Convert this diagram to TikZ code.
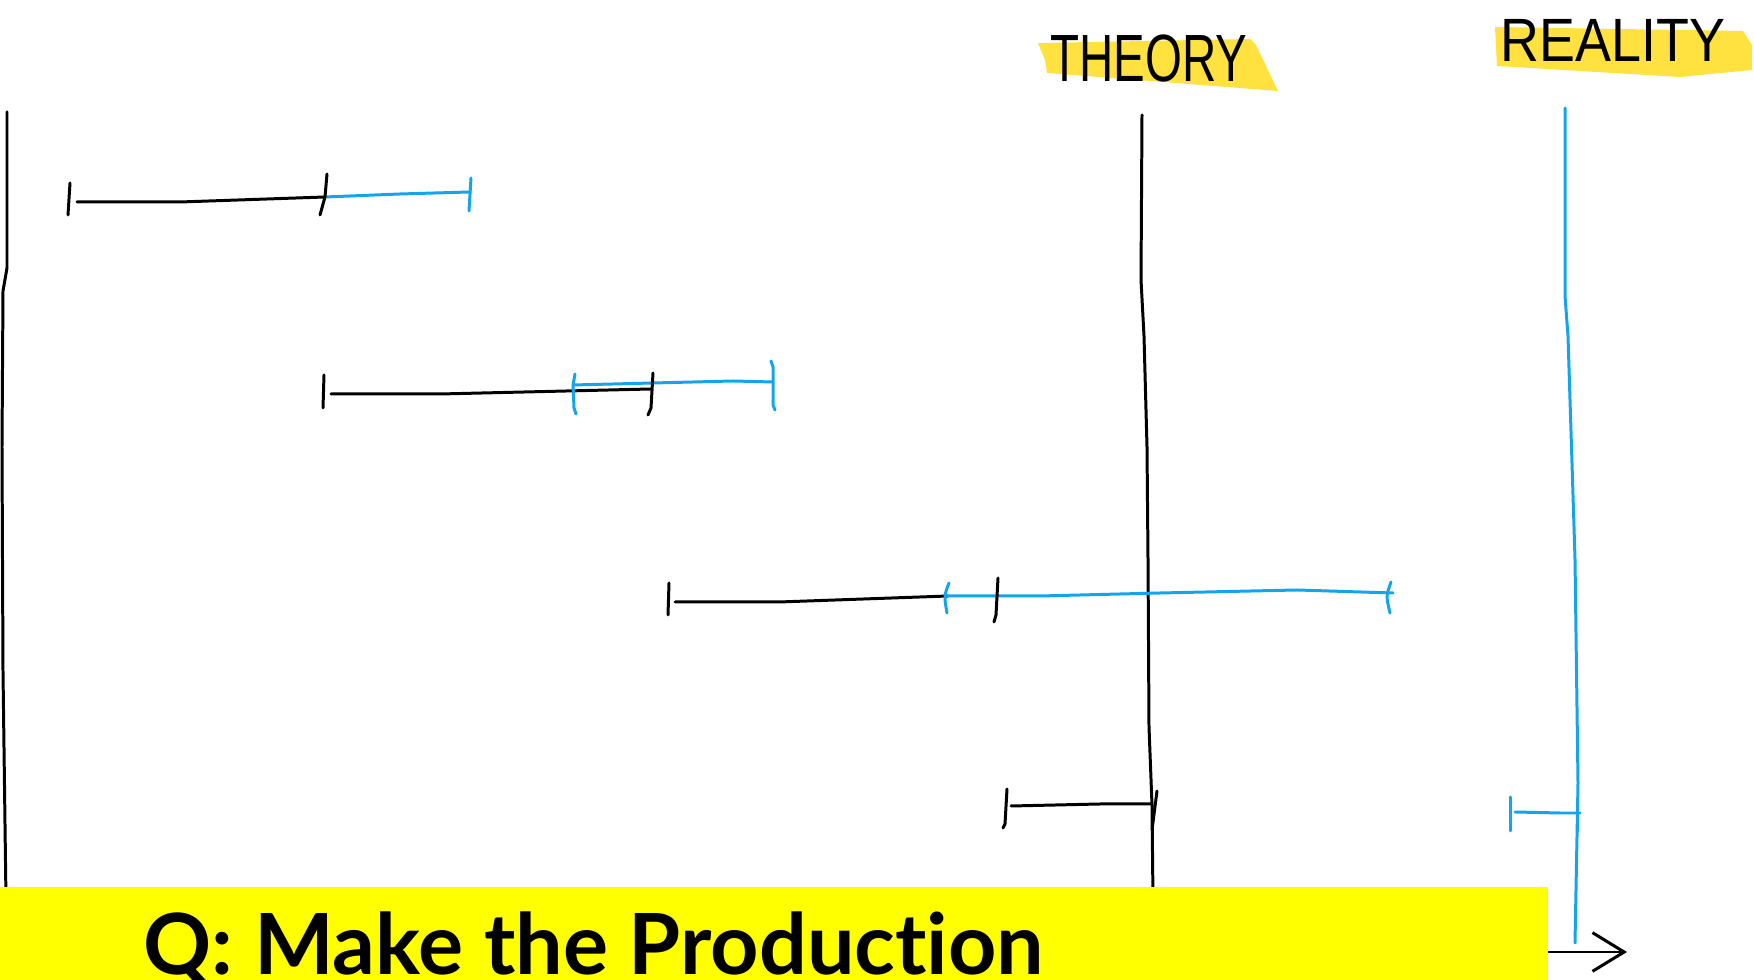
\documentclass[tikz,border=0pt]{standalone}
\usepackage{fontspec}
\setmainfont{Liberation Sans}
\newfontfamily\bannerfont[Ligatures=NoCommon]{Lato}
\usepackage{graphicx}
\usepackage{tikz}
\usetikzlibrary{arrows.meta}
\definecolor{sketchblue}{RGB}{18,164,236}
\definecolor{markeryellow}{RGB}{255,226,64}
\definecolor{banneryellow}{RGB}{255,255,0}

\begin{document}
\begin{tikzpicture}[
    x=0.01cm, y=-0.01cm,
    inkblack/.style={draw=black, line width=0.85pt, line cap=round, line join=round},
    inkblue/.style={draw=sketchblue, line width=0.85pt, line cap=round, line join=round},
    handlabel/.style={anchor=base, inner sep=0pt, font=\fontsize{19}{19}\selectfont},
    banner/.style={anchor=base west, inner sep=0pt, font=\bannerfont\bfseries\fontsize{24}{24}\selectfont}
]
\useasboundingbox (0,0) rectangle (1754,980);

% Headings
\fill[markeryellow] (1038,43) -- (1250,39) -- (1256,45) -- (1278,91) -- (1047,73) -- (1045,60) -- cycle;
\fill[markeryellow] (1495,27) -- (1743,31) -- (1752,45) -- (1752,70) -- (1680,77) -- (1497,66) -- cycle;
\node[handlabel] (theory) at (1149,82) {\scalebox{0.71}[1]{THEORY}};
\node[handlabel, font=\fontsize{17.4}{17.4}\selectfont] (reality) at (1613,62) {\scalebox{0.88}[1]{REALITY}};

% Time lines
\coordinate (axisTop) at (7,112);
\coordinate (axisBot) at (6,900);
\coordinate (theoryTop) at (1142,115);
\coordinate (theoryBot) at (1153,900);
\coordinate (realityTop) at (1565,108);
\coordinate (realityBot) at (1575,943);
\draw[inkblack] (axisTop) -- (7,268) -- (3,291) -- (2,447) -- (3,671) -- (axisBot);
\draw[inkblack] (theoryTop) -- (1141,280) -- (1144,336) -- (1147,447) -- (1148,559) -- (1149,727) -- (1152,805) -- (theoryBot);
\draw[inkblue] (realityTop) -- (1565,296) -- (1568,336) -- (1575,559) -- (1578,783) -- (realityBot);

% Row 1
\coordinate (th1s) at (77,202);
\coordinate (th1e) at (325,197);
\coordinate (re1s) at (325,197);
\coordinate (re1e) at (470,192);
\draw[inkblack] (th1s) -- (180,202) -- (th1e);
\draw[inkblue] (re1s) -- (400,194) -- (re1e);
\draw[inkblack] (70,183) -- (68,215);
\draw[inkblack] (327,174) -- (325,197) -- (320,215);
\draw[inkblue] (471,178) -- (469,211);

% Row 2
\coordinate (th2s) at (331,394);
\coordinate (th2e) at (651,389);
\coordinate (re2s) at (573,385);
\coordinate (re2e) at (773,382);
\draw[inkblack] (th2s) -- (440,394) -- (th2e);
\draw[inkblue] (re2s) -- (733,381) -- (re2e);
\draw[inkblack] (324,375) -- (323,408);
\draw[inkblack] (653,373) -- (651,408) -- (648,415);
\draw[inkblue] (575,374) -- (573,385) -- (574,408) -- (576,414);
\draw[inkblue] (771,361) -- (773,367) -- (773,405) -- (775,410);

% Row 3
\coordinate (th3s) at (675,602);
\coordinate (th3e) at (948,596);
\coordinate (re3s) at (946,596);
\coordinate (re3e) at (1393,593);
\draw[inkblack] (th3s) -- (779,602) -- (th3e);
\draw[inkblue] (re3s) -- (1040,596) -- (1160,593) -- (1297,590) -- (re3e);
\draw[inkblack] (669,583) -- (668,615);
\draw[inkblue] (949,583) .. controls (944,596) .. (947,613);
\draw[inkblack] (998,578) -- (996,615) -- (994,622);
\draw[inkblue] (1391,582) .. controls (1386,596) .. (1390,613);

% Row 4
\coordinate (th4s) at (1011,806);
\coordinate (th4e) at (1152,804);
\coordinate (re4s) at (1515,812);
\coordinate (re4e) at (1580,813);
\draw[inkblack] (th4s) -- (1100,804) -- (th4e);
\draw[inkblue] (re4s) -- (1560,813) -- (re4e);
\draw[inkblack] (1007,789) -- (1005,824) -- (1003,828);
\draw[inkblack] (1157,791) -- (1152,830);
\draw[inkblue] (1510,797) -- (1510,831);
\draw[inkblue] (1577,802) -- (1577,831);

% Question banner
\coordinate (arrowStart) at (1500,952);
\coordinate (arrowEnd) at (1627,952);
\draw[inkblack, -{Straight Barb[length=9pt, width=11pt]}] (arrowStart) -- (arrowEnd);
\fill[banneryellow] (0,887) rectangle (1548,980);
\node[banner] (question) at (143,975) {Q: Make the Production};
\end{tikzpicture}
\end{document}
